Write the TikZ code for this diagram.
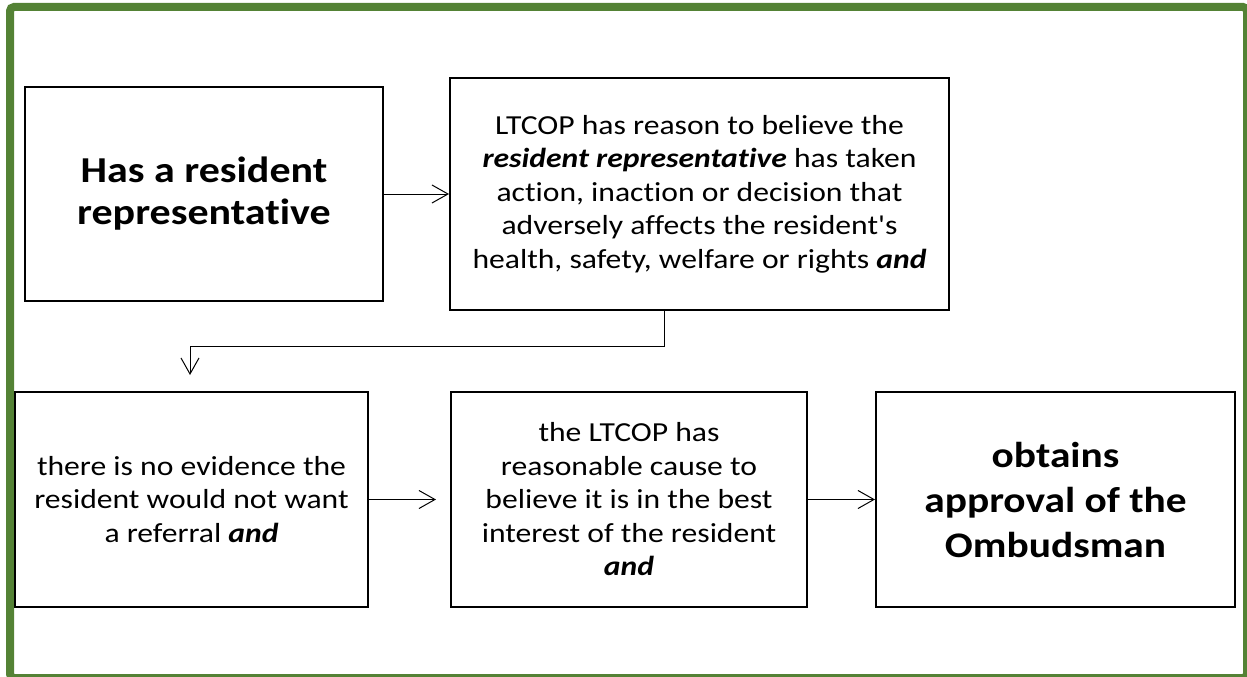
\documentclass[tikz,border=0pt]{standalone}
\usepackage{fontspec}
\setmainfont{Carlito}[FakeStretch=1.15, Ligatures={NoCommon}]
\newfontfamily\plainq{Carlito}[FakeStretch=1.15, Ligatures={NoCommon}]
\usetikzlibrary{arrows.meta}
\definecolor{framegreen}{RGB}{84,130,53}
\tikzset{
  box/.style={draw=black, line width=2pt, rectangle, inner sep=0pt, align=center, fill=white},
  small/.style={font=\fontsize{27.5}{33.5}\selectfont},
  big/.style={font=\fontsize{36.5}{42}\selectfont\bfseries},
  bigger/.style={font=\fontsize{36}{45}\selectfont\bfseries},
  arr/.style={draw=black, line width=1pt, -{Straight Barb[length=16pt, width=18pt, line width=1pt]}}
}
\begin{document}
\begin{tikzpicture}[x=1pt, y=-1pt]
\useasboundingbox (0,0) rectangle (1247,677);
\begin{scope}
  \clip (0,0) rectangle (1247,677);
  \draw[framegreen, line width=8pt, rounded corners=4pt] (10,7) rectangle (1247,678);
\end{scope}

\node[box, big, minimum width=358pt, minimum height=214pt] (b1) at (204,194)
  {Has a resident\\representative};
\node[box, small, minimum width=499pt, minimum height=232pt] (b2) at (699.5,194)
  {LTCOP has reason to believe the\\
   \textbf{\textit{resident representative}} has taken\\
   action, inaction or decision that\\
   adversely affects the resident{\plainq '}s\\
   health, safety, welfare or rights \textbf{\textit{and}}};
\node[box, small, minimum width=353pt, minimum height=215pt] (b3) at (191.5,499.5)
  {there is no evidence the\\resident would not want\\a referral \textbf{\textit{and}}};
\node[box, small, minimum width=356pt, minimum height=215pt] (b4) at (629,499.5)
  {the LTCOP has\\reasonable cause to\\believe it is in the best\\interest of the resident\\\textbf{\textit{and}}};
\node[box, bigger, minimum width=359pt, minimum height=215pt] (b5) at (1055.5,499.5)
  {obtains\\approval of the\\Ombudsman};

\coordinate (bend) at (190,346);
\coordinate (tip) at (190,375);

\draw[arr] (b1) -- (b2);
\draw[arr] ([xshift=-35pt]b2.south) |- (bend) -- (tip);
\draw[arr, shorten >=14pt] (b3) -- (b4);
\draw[arr] (b4) -- (b5);
\end{tikzpicture}
\end{document}
